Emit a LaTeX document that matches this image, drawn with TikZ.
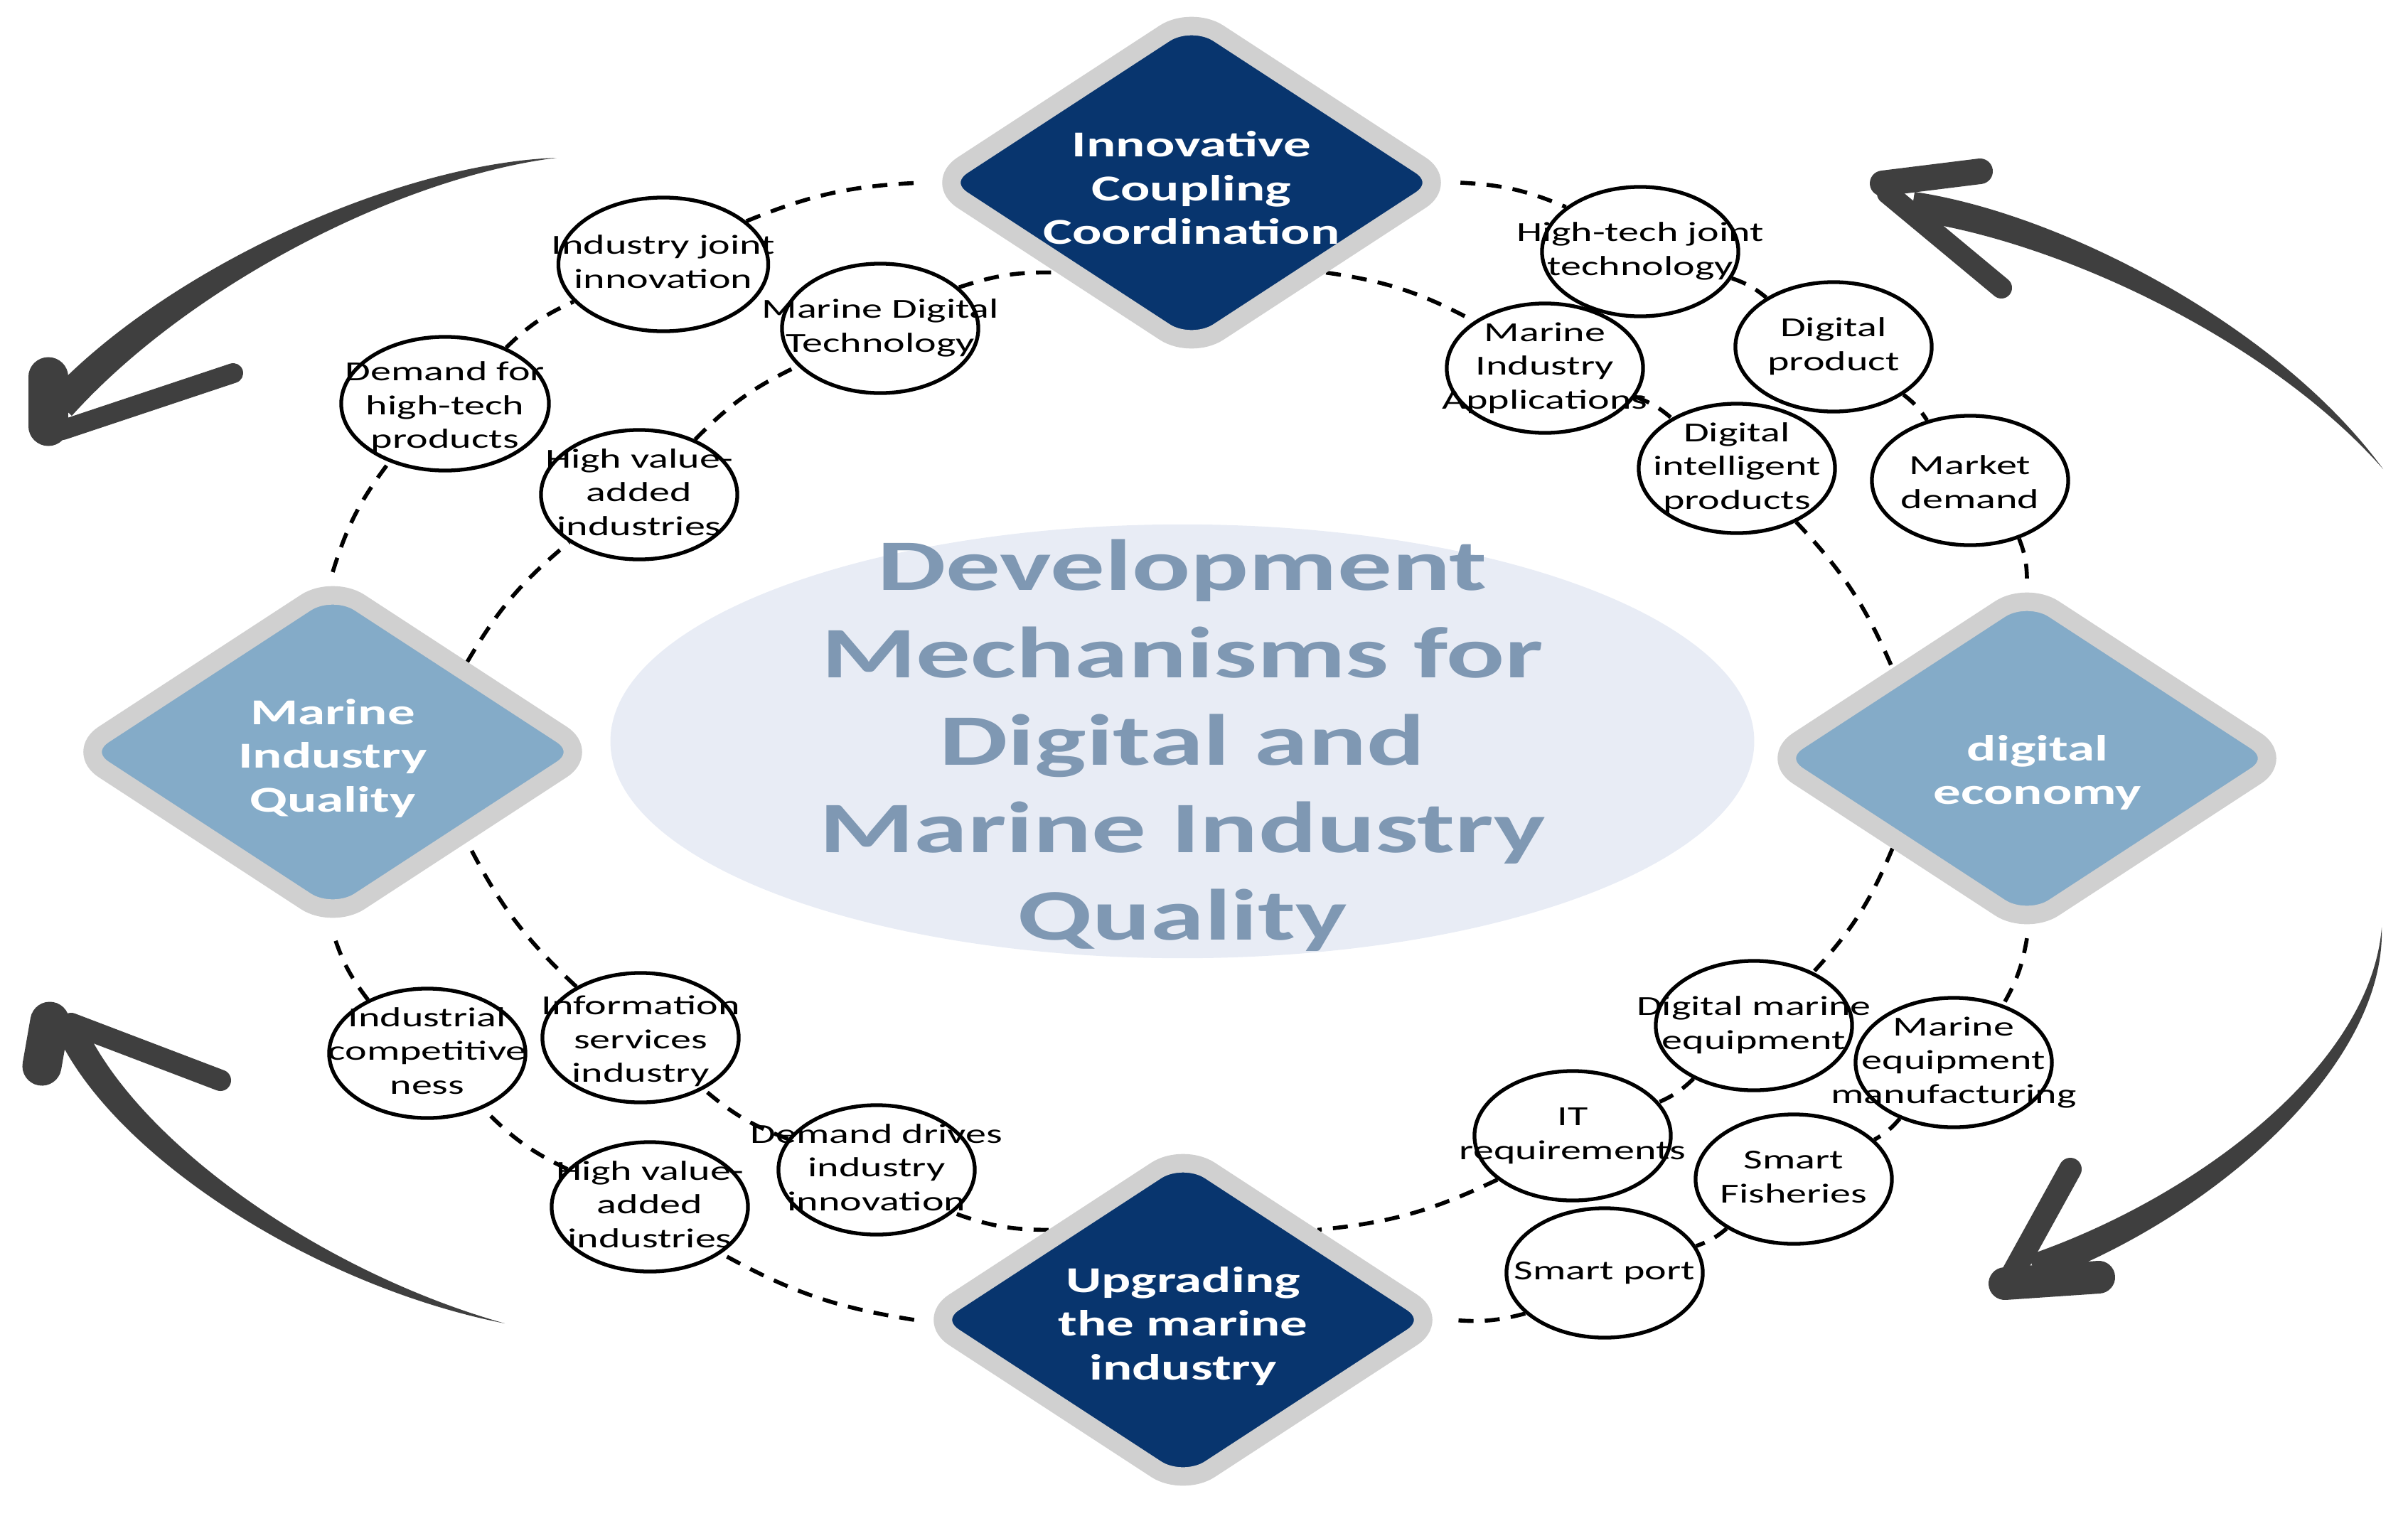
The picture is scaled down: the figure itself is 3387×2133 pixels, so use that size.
\documentclass[tikz,border=0pt]{standalone}
\usepackage{fontspec}
\setmainfont{Carlito}[FakeStretch=1.5]
\usetikzlibrary{shapes.geometric,backgrounds}
\definecolor{hubnavy}{HTML}{08356E}
\definecolor{hubsteel}{HTML}{84ABC8}
\definecolor{hubring}{HTML}{D0D0D0}
\definecolor{corefill}{HTML}{E8ECF5}
\definecolor{coretext}{HTML}{7F98B3}
\definecolor{brushgray}{HTML}{3F3F3F}
\newcommand{\celltext}[2][-0.25em]{\smash{\makebox[0pt]{\raisebox{#1}{\begin{tabular}{@{}c@{}}#2\end{tabular}}}}}
\tikzstyle{bubble} = [ellipse, draw=black, line width=1.5pt, fill=white, inner sep=0pt, minimum width=2.76cm, minimum height=1.82cm, font=\fontsize{11}{13.5}\selectfont]
\tikzstyle{hub} = [diamond, draw=hubring, line width=0.26cm, rounded corners=0.45cm, inner sep=0pt, minimum width=7.3cm, minimum height=4.8cm, text=white, font=\bfseries\fontsize{14.6}{17.5}\selectfont]
\tikzstyle{core} = [ellipse, fill=corefill, inner sep=0pt, minimum width=16.08cm, minimum height=6.1cm, text=coretext, font=\bfseries\fontsize{29}{35}\selectfont]
\tikzstyle{dashring} = [line width=1.6pt, dash pattern=on 6pt off 4.5pt]
\tikzstyle{brush} = [fill=brushgray]
\tikzstyle{barb} = [draw=brushgray, line cap=round]

\begin{document}
\begin{tikzpicture}[x=0.01cm, y=-0.01cm]
\useasboundingbox (0,0) rectangle (3387,2133);
\node(core) [core] at (1663,1043) {\celltext[-0.3em]{Development\\Mechanisms for\\Digital and\\Marine Industry\\Quality}};
\node(innov) [hub, fill=hubnavy] at (1676,257) {\celltext[-0.5em]{Innovative\\Coupling\\Coordination}};
\node(miq) [hub, fill=hubsteel] at (468,1058) {\celltext[-0.45em]{Marine\\Industry\\Quality}};
\node(digecon) [hub, fill=hubsteel] at (2851,1067) {\hspace{0.3cm}\celltext[-0.67em]{digital\\economy}};
\node(upgrade) [hub, fill=hubnavy] at (1664,1857) {\celltext[-0.45em]{Upgrading\\the marine\\industry}};

\node(indjoint) [bubble, minimum width=2.95cm, minimum height=1.88cm] at (933,372) {\celltext{Industry joint\\innovation}};
\node(demandhi) [bubble, minimum width=2.92cm, minimum height=1.88cm] at (626,568) {\celltext[-0.4em]{Demand for\\high-tech\\products}};
\node(mdt) [bubble] at (1238,462) {\celltext{Marine Digital\\Technology}};
\node(hvatop) [bubble] at (899,696) {\celltext{High value-\\added\\industries}};
\node(htjoint) [bubble] at (2307,354) {\celltext{High-tech joint\\technology}};
\node(mia) [bubble] at (2173,518) {\celltext{Marine\\Industry\\Applications}};
\node(digprod) [bubble] at (2579,488) {\celltext{Digital\\product}};
\node(dip) [bubble] at (2443,659) {\celltext{Digital\\intelligent\\products}};
\node(market) [bubble] at (2771,676) {\celltext[-0.4em]{Market\\demand}};
\node(indcomp) [bubble] at (601,1482) {\celltext{Industrial\\competitive\\ness}};
\node(infoserv) [bubble] at (901,1460) {\celltext[-0.4em]{Information\\services\\industry}};
\node(hvabot) [bubble] at (914,1698) {\celltext{High value-\\added\\industries}};
\node(ddi) [bubble] at (1233,1646) {\celltext{Demand drives\\industry\\innovation}};
\node(dmequip) [bubble] at (2467,1443) {\celltext{Digital marine\\equipment}};
\node(mequip) [bubble] at (2748,1495) {\celltext{Marine\\equipment\\manufacturing}};
\node(itreq) [bubble] at (2212,1598) {\celltext{IT\\requirements}};
\node(fisheries) [bubble] at (2523,1659) {\celltext{Smart\\Fisheries}};
\node(sport) [bubble] at (2257,1791) {\celltext{Smart port}};

\begin{pgfonlayer}{background}
\draw[dashring] (innov.east) to[bend left=10] (htjoint);
\draw[dashring] (htjoint) to[bend left=10] (digprod);
\draw[dashring] (digprod) to[bend left=10] (market);
\draw[dashring] (market) to[bend left=10] (digecon.north);
\draw[dashring] (digecon.south) to[bend left=10] (mequip);
\draw[dashring] (mequip) to[bend left=10] (fisheries);
\draw[dashring] (fisheries) to[bend left=10] (sport);
\draw[dashring] (sport) to[bend left=10] (upgrade.east);
\draw[dashring] (upgrade.west) to[bend left=10] (hvabot);
\draw[dashring] (hvabot) to[bend left=10] (indcomp);
\draw[dashring] (indcomp) to[bend left=10] (miq.south);
\draw[dashring] (miq.north) to[bend left=10] (demandhi);
\draw[dashring] (demandhi) to[bend left=10] (indjoint);
\draw[dashring] (indjoint) to[bend left=10] (innov.west);
\draw[dashring] (innov.south east) to[bend left=10] (mia);
\draw[dashring] (mia) to[bend left=10] (dip);
\draw[dashring] (dip) to[bend left=10] (digecon.north west);
\draw[dashring] (digecon.south west) to[bend left=10] (dmequip);
\draw[dashring] (dmequip) to[bend left=10] (itreq);
\draw[dashring] (itreq) to[bend left=10] (upgrade.north east);
\draw[dashring] (upgrade.north west) to[bend left=10] (ddi);
\draw[dashring] (ddi) to[bend left=10] (infoserv);
\draw[dashring] (infoserv) to[bend left=10] (miq.south east);
\draw[dashring] (miq.north east) to[bend left=10] (hvatop);
\draw[dashring] (hvatop) to[bend left=10] (mdt);
\draw[dashring] (mdt) to[bend left=10] (innov.south west);
\end{pgfonlayer}

\fill[brush] (783,222) .. controls (560,230) and (235,377) .. (69,555) -- (101,585) .. controls (265,403) and (560,250) .. (783,222) -- cycle;
\draw[barb, line width=0.55cm] (68,530) -- (68,600);
\draw[barb, line width=0.28cm] (88,605) -- (328,525);

\fill[brush] (3352,660) .. controls (3207,461) and (2903,301) .. (2693,270) -- (2687,310) .. controls (2897,339) and (3193,479) .. (3352,660) -- cycle;
\draw[barb, line width=0.36cm] (2648,258) -- (2785,241);
\draw[barb, line width=0.3cm] (2655,272) -- (2815,405);

\fill[brush] (710,1862) .. controls (446,1810) and (165,1631) .. (82,1459) -- (118,1441) .. controls (195,1609) and (454,1790) .. (710,1862) -- cycle;
\draw[barb, line width=0.55cm] (70,1437) -- (59,1500);
\draw[barb, line width=0.3cm] (100,1440) -- (310,1520);

\fill[brush] (3350,1305) .. controls (3356,1500) and (3111,1715) .. (2867,1804) -- (2853,1766) .. controls (3089,1685) and (3334,1500) .. (3350,1305) -- cycle;
\draw[barb, line width=0.46cm] (2820,1806) -- (2952,1797);
\draw[barb, line width=0.32cm] (2832,1790) -- (2912,1645);
\end{tikzpicture}
\end{document}
